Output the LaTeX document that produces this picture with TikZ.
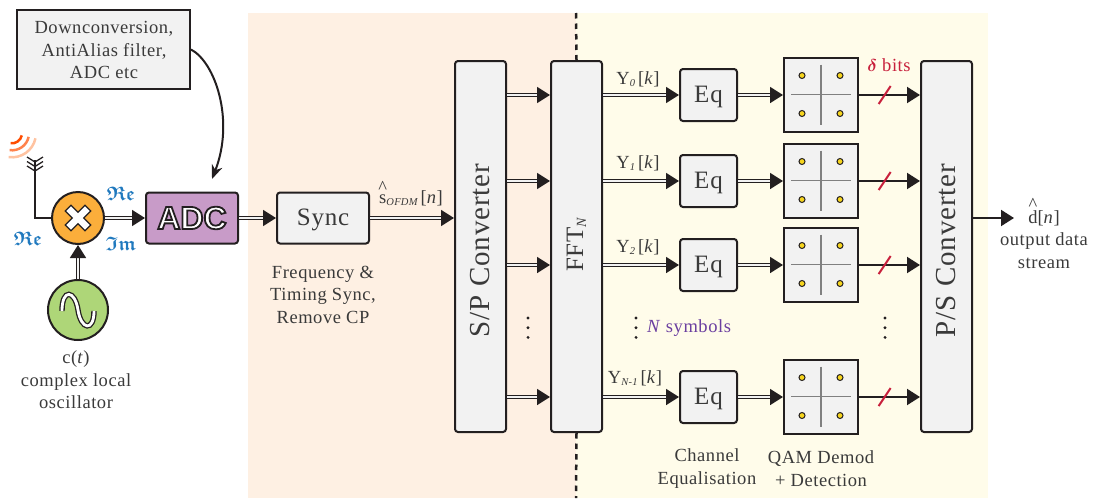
\documentclass[tikz,border=0pt]{standalone}
\usepackage{fontspec}
\usepackage{amssymb,bm}
\usetikzlibrary{arrows.meta}
\setmainfont{Liberation Serif}[LetterSpace=3]
\newfontfamily\adcfont{Liberation Sans}
\definecolor{inkdark}{HTML}{231F20}
\definecolor{inktext}{HTML}{3A3A3A}
\definecolor{boxgrey}{HTML}{F2F2F2}
\definecolor{bgorange}{HTML}{FEF0E3}
\definecolor{bgyellow}{HTML}{FFFCEA}
\definecolor{mixorange}{HTML}{FBAE3B}
\definecolor{adcpurple}{HTML}{C89BC8}
\definecolor{logreen}{HTML}{AED678}
\definecolor{reblue}{HTML}{2079BE}
\definecolor{bitred}{HTML}{C8203C}
\definecolor{sympurple}{HTML}{6B3FA0}
\definecolor{dotyellow}{HTML}{F7D51D}
\newcommand{\hatted}[2]{\setbox0\hbox{#2}\rlap{\hbox to \wd0{\hss\raisebox{#1}[0pt][0pt]{\^{}}\hss}}\box0}
\newcommand{\ysym}[1]{Y\raisebox{-2pt}{\fontsize{10.5}{10.5}\selectfont\itshape #1}\,[\textit{k}]}
\newcommand{\fraklbl}[1]{$\bm{\mathfrak{#1}}$}
\newcommand{\outlined}[1]{\special{pdf:code q 2 Tr 1.8 w 0.137 0.122 0.125 RG 1 1 1 rg}#1\special{pdf:code Q}}

\begin{document}
\begin{tikzpicture}[x=1pt,y=-1pt]
    \tikzset{basebox/.style={draw=inkdark, line width=2pt, fill=boxgrey,
        rounded corners=3pt, inner sep=0pt, text=inktext},
        eqbox/.style={basebox, minimum width=57pt, minimum height=52pt,
        text height=21pt, text depth=5.6pt,
        font=\fontsize{25}{25}\selectfont},
        qambox/.style={basebox, sharp corners, minimum width=74pt,
        minimum height=74pt},
        tallbox/.style={basebox, minimum width=51pt, minimum height=371pt},
        talllabel/.style={rotate=90, text=inktext,
        font=\fontsize{29}{29}\selectfont},
        lbl/.style={align=center, text=inktext, inner sep=0pt,
        font=\fontsize{18.5}{22.5}\selectfont},
        dbl/.style={line width=1.7pt, double=boxgrey, double distance=1.2pt,
        draw=inkdark, -{Triangle[length=13pt,width=16pt]}},
        sgl/.style={line width=2pt, draw=inkdark,
        -{Triangle[length=13pt,width=16pt]}},
        frak/.style={text=reblue, inner sep=0pt,
        font=\fontsize{19.5}{19.5}\selectfont},
        dotcol/.style={draw=inkdark, line width=3.2pt, line cap=round,
        dash pattern=on 0pt off 9.7pt},
        qamdots/.pic={
            \draw[line width=1.8pt, draw=gray] (-30,0) -- (30,0);
            \draw[line width=1.8pt, draw=gray] (0,-30) -- (0,30);
            \foreach \dx in {-19,19}{\foreach \dy in {-19,19}{
                \draw[fill=dotyellow, draw=inkdark, line width=1pt]
                    (\dx,\dy) circle[radius=3];
            }}
        },
        bitslash/.pic={\draw[bitred, -, line width=2pt] (-6,9) -- (6,-9);}}

    % backgrounds
    \fill[bgorange] (248,13) rectangle (576,498);
    \fill[bgyellow] (576,13) rectangle (988,498);
    \useasboundingbox (0,0) rectangle (1100,498);

    % front end
    \path (103.5,49.5) node[basebox, sharp corners, minimum width=173pt,
        minimum height=79pt](note){};
    \path (104,50) node[lbl](notetxt){Downconversion,\\AntiAlias filter,\\ADC etc};
    \path (78,218) node[circle, draw=inkdark, line width=2pt, fill=mixorange,
        minimum size=52pt, inner sep=0pt](mixer){};
    \path (78,310) node[circle, draw=inkdark, line width=2pt, fill=logreen,
        minimum size=60pt, inner sep=0pt](lo){};
    \path (192,218) node[basebox, fill=adcpurple, minimum width=92pt,
        minimum height=51pt](adc){\adcfont\bfseries\fontsize{32}{32}\selectfont
        \outlined{ADC}};
    \path (323,218) node[eqbox, minimum width=92pt, minimum height=51pt](sync){Sync};
    \coordinate (ant) at (35,160);
    \coordinate (adcin) at (212,179);

    % antenna
    \draw[line width=1.7pt, draw=inkdark] (ant) |- (mixer.west);
    \draw[line width=1.3pt, draw=inkdark] (27,157) -- (35,162) -- (43,157)
        (27,161.5) -- (35,166.5) -- (43,161.5) (27,166) -- (35,171) -- (43,166);
    \draw[line width=2.5pt, draw=orange!30!white!90!red]
        (12,133.3)+(12:24) arc[start angle=12, end angle=98, radius=24];
    \draw[line width=2.5pt, draw=orange!60!red!70!white]
        (12,133.3)+(12:17) arc[start angle=12, end angle=98, radius=17];
    \draw[line width=2.5pt, draw=orange!60!red]
        (12,133.3)+(12:10) arc[start angle=12, end angle=98, radius=10];

    % mixer cross and oscillator wave
    \draw[draw=inkdark, fill=white, line width=1.2pt, shift={(mixer.center)},
        rotate=45] (-4,-4) -- (-4,-14) -- (4,-14) -- (4,-4) -- (14,-4)
        -- (14,4) -- (4,4) -- (4,14) -- (-4,14) -- (-4,4) -- (-14,4)
        -- (-14,-4) -- cycle;
    \draw[draw=inkdark, line width=1.3pt, double=white, double distance=2.8pt]
        (62,311) .. controls (62,288) and (75,290) .. (78,310)
        .. controls (81,330) and (94,332) .. (94,311);

    \draw[dbl] (lo.north) -- (mixer.south);
    \draw[dbl] (mixer.east) -- (adc.west);
    \draw[dbl] (adc.east) -- (sync.west);
    \draw[line width=2pt, draw=inkdark, -{Stealth[length=14pt,width=11pt]}]
        (note.east) .. controls (215,62) and (235,120) .. (adcin);
    \path (121,194) node[frak](relbl){\fraklbl{Re}};
    \path (28,239) node[frak](relbltwo){\fraklbl{Re}};
    \path (121,244) node[frak](imlbl){\fraklbl{Im}};
    \path (76,380) node[lbl](lolbl){c(\textit{t})\\complex local\\oscillator};
    \path (323,294.5) node[lbl](synclbl){Frequency \&\\Timing Sync,\\Remove CP};

    % large blocks
    \path (480.5,246.5) node[tallbox](spconv){};
    \path (480.5,250.5) node[talllabel](sptxt){S/P Converter};
    \path (576.5,246.5) node[tallbox](fftn){};
    \path (576.5,245) node[talllabel, font=\fontsize{25}{25}\selectfont](ffttxt){FFT\raisebox{-3pt}{\fontsize{14}{14}\selectfont\itshape N}};
    \path (946.5,246.5) node[tallbox](psconv){};
    \path (946.5,250.5) node[talllabel](pstxt){P/S Converter};
    \draw[dbl] (sync.east) -- (sync.east -| spconv.west);
    \path (411,198) node[lbl](shat){\hatted{10pt}{s}\raisebox{-2pt}{\fontsize{10.5}{10.5}\selectfont\itshape OFDM}\,[\textit{n}]};

    \draw[line width=2.5pt, draw=inkdark, dash pattern=on 5.5pt off 5pt]
        (576,13) -- (fftn.north);
    \draw[line width=2.5pt, draw=inkdark, dash pattern=on 5.5pt off 5pt]
        (fftn.south) -- (576,498);

    % row 0
    \path (708.5,95) node[eqbox](eq0){Eq};
    \path (821,94.5) node[qambox](qam0){} pic{qamdots};
    \draw[dbl] (spconv.east |- eq0) -- (fftn.west |- eq0);
    \draw[dbl] (fftn.east |- eq0) -- (eq0.west);
    \draw[dbl] (eq0.east) -- (qam0.west |- eq0);
    \draw[sgl] (qam0.east |- eq0) -- (psconv.west |- eq0) pic[pos=.42]{bitslash};
    \path (638,79) node[lbl](y0){\ysym{0}};

    % row 1
    \path (708.5,181) node[eqbox](eq1){Eq};
    \path (821,180.5) node[qambox](qam1){} pic{qamdots};
    \draw[dbl] (spconv.east |- eq1) -- (fftn.west |- eq1);
    \draw[dbl] (fftn.east |- eq1) -- (eq1.west);
    \draw[dbl] (eq1.east) -- (qam1.west |- eq1);
    \draw[sgl] (qam1.east |- eq1) -- (psconv.west |- eq1) pic[pos=.42]{bitslash};
    \path (638,163) node[lbl](y1){\ysym{1}};

    % row 2
    \path (708.5,265) node[eqbox](eq2){Eq};
    \path (821,264.5) node[qambox](qam2){} pic{qamdots};
    \draw[dbl] (spconv.east |- eq2) -- (fftn.west |- eq2);
    \draw[dbl] (fftn.east |- eq2) -- (eq2.west);
    \draw[dbl] (eq2.east) -- (qam2.west |- eq2);
    \draw[sgl] (qam2.east |- eq2) -- (psconv.west |- eq2) pic[pos=.42]{bitslash};
    \path (638,247) node[lbl](y2){\ysym{2}};

    % row N-1
    \path (708.5,397) node[eqbox](eq3){Eq};
    \path (821,396.5) node[qambox](qam3){} pic{qamdots};
    \draw[dbl] (spconv.east |- eq3) -- (fftn.west |- eq3);
    \draw[dbl] (fftn.east |- eq3) -- (eq3.west);
    \draw[dbl] (eq3.east) -- (qam3.west |- eq3);
    \draw[sgl] (qam3.east |- eq3) -- (psconv.west |- eq3) pic[pos=.42]{bitslash};
    \path (635,378) node[lbl](y3){\ysym{N-1}};

    % the rest of the labels
    \draw[dotcol] (528,318) -- (528,338);
    \draw[dotcol] (636,318) -- (636,338);
    \draw[dotcol] (885,318) -- (885,338);
    \path (689,328) node[lbl, text=sympurple](nsym){\textit{N} symbols};
    \path (889,65) node[lbl, text=bitred](dbits){$\bm{\delta}$ bits};
    \path (707,468.5) node[lbl](eqlbl){Channel\\Equalisation};
    \path (821,468.5) node[lbl](qamlbl){QAM Demod\\+ Detection};
    \coordinate (psout) at (1014,218);
    \draw[sgl] (psconv.east |- psout) -- (psout);
    \path (1044,239.5) node[lbl](dlbl){\hatted{13pt}{d}[\textit{n}]\\output data\\stream};
\end{tikzpicture}
\end{document}
